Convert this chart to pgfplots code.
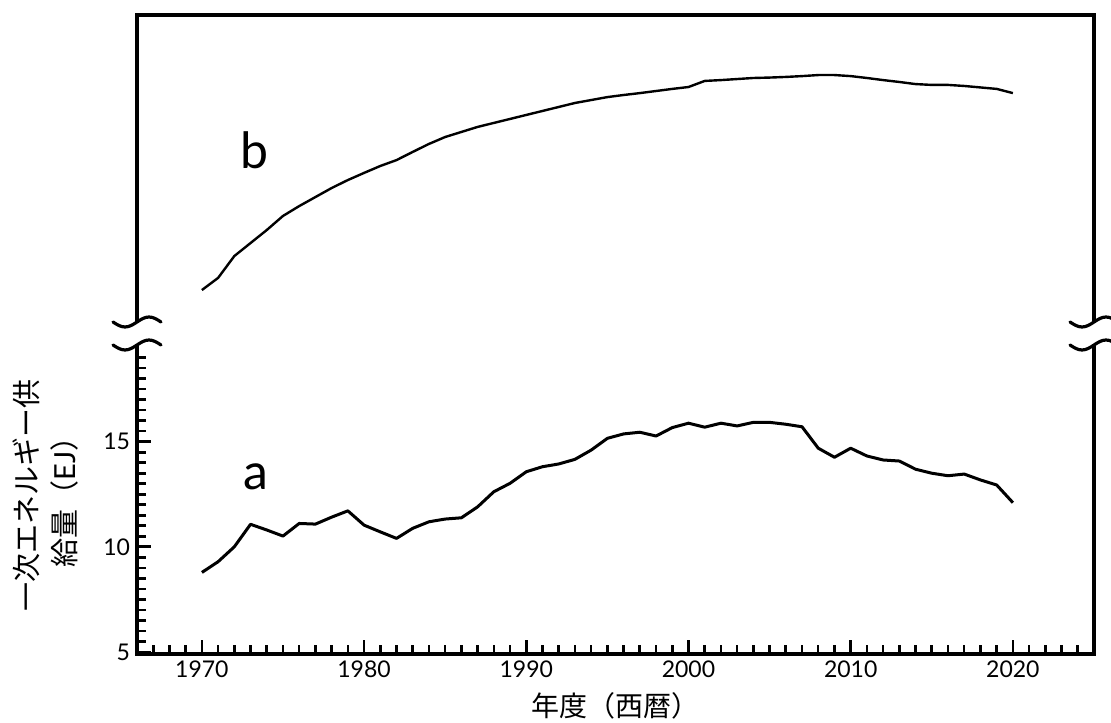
\documentclass[border=0pt]{standalone}
\usepackage{fontspec}
\setmainfont{Lato}
\newfontfamily\jp{Noto Sans CJK JP}
\usepackage{pgfplots}
\usepackage{pgfplotstable}
\pgfplotsset{compat=1.18}

\pgfplotstableread{
year a
1970 8.78
1971 9.29
1972 10.00
1973 11.07
1974 10.80
1975 10.51
1976 11.11
1977 11.08
1978 11.41
1979 11.71
1980 11.03
1981 10.71
1982 10.40
1983 10.88
1984 11.19
1985 11.32
1986 11.38
1987 11.90
1988 12.62
1989 13.02
1990 13.57
1991 13.81
1992 13.94
1993 14.16
1994 14.60
1995 15.16
1996 15.37
1997 15.45
1998 15.27
1999 15.67
2000 15.88
2001 15.69
2002 15.88
2003 15.75
2004 15.92
2005 15.92
2006 15.83
2007 15.71
2008 14.69
2009 14.26
2010 14.69
2011 14.32
2012 14.13
2013 14.08
2014 13.69
2015 13.50
2016 13.38
2017 13.46
2018 13.18
2019 12.94
2020 12.10
}\dataA

\pgfplotstableread{
year b
1970 1.52
1971 2.10
1972 3.14
1973 3.76
1974 4.38
1975 5.05
1976 5.52
1977 5.95
1978 6.38
1979 6.76
1980 7.10
1981 7.43
1982 7.71
1983 8.10
1984 8.48
1985 8.81
1986 9.05
1987 9.29
1988 9.48
1989 9.67
1990 9.86
1991 10.05
1992 10.24
1993 10.43
1994 10.57
1995 10.71
1996 10.81
1997 10.90
1998 11.00
1999 11.10
2000 11.19
2001 11.48
2002 11.52
2003 11.57
2004 11.62
2005 11.64
2006 11.67
2007 11.71
2008 11.76
2009 11.76
2010 11.71
2011 11.62
2012 11.52
2013 11.43
2014 11.33
2015 11.29
2016 11.29
2017 11.24
2018 11.17
2019 11.10
2020 10.90
}\dataB

\begin{document}
\begin{tikzpicture}
\path[use as bounding box] (0,0) rectangle (555.5pt,361pt);

% lower axis (curve a)
\begin{axis}[
  at={(68.5pt,34pt)}, anchor=south west,
  scale only axis, width=478.5pt, height=154.5pt,
  xmin=1966, xmax=2025, ymin=4.9, ymax=19.6,
  clip=false,
  axis line style={draw=none},
  xtick={1970,1980,...,2020}, minor xtick={1967,...,2024},
  ytick={5,10,15}, minor ytick={5.5,6,...,19},
  xtick pos=bottom, ytick pos=left, tick align=inside,
  major tick length=7pt, minor tick length=4.3pt,
  tick style={black, line width=1.3pt},
  /pgf/number format/1000 sep={},
  /pgf/number format/assume math mode=true,
  ticklabel style={font=\fontsize{11.5}{13}\selectfont},
]
\addplot[black, line width=1.5pt, line join=round] table[x=year,y=a] {\dataA};
\draw[line width=2pt, line join=miter] (rel axis cs:0,1) -- (rel axis cs:0,0) -- (rel axis cs:1,0) -- (rel axis cs:1,1);
\node[font=\fontsize{25}{30}\selectfont] at (axis cs:1973.33,13.32) {a};
\end{axis}

% upper axis (curve b)
\begin{axis}[
  at={(68.5pt,200pt)}, anchor=south west,
  scale only axis, width=478.5pt, height=153.5pt,
  xmin=1966, xmax=2025, ymin=0, ymax=14.62,
  clip=false,
  axis line style={draw=none},
  xtick=\empty, ytick=\empty,
]
\addplot[black, line width=1.2pt, line join=round] table[x=year,y=b] {\dataB};
\draw[line width=2pt, line join=miter] (rel axis cs:0,0) -- (rel axis cs:0,1) -- (rel axis cs:1,1) -- (rel axis cs:1,0);
\node[font=\fontsize{25}{30}\selectfont] at (axis cs:1973.27,8.19) {b};
\end{axis}

% axis break marks
\begin{scope}[line width=1.6pt, line cap=round]
\draw (56.5pt,200pt) sin (62.5pt,197.5pt) cos (68.5pt,200pt) sin (74.5pt,202.5pt) cos (80.5pt,200pt);
\draw (56.5pt,188.5pt) sin (62.5pt,186pt) cos (68.5pt,188.5pt) sin (74.5pt,191pt) cos (80.5pt,188.5pt);
\draw (535pt,200pt) sin (541pt,197.5pt) cos (547pt,200pt) sin (553pt,202.5pt) cos (559pt,200pt);
\draw (535pt,188.5pt) sin (541pt,186pt) cos (547pt,188.5pt) sin (553pt,191pt) cos (559pt,188.5pt);
\end{scope}

% axis labels
\node[rotate=90, align=center, font=\jp\fontsize{14.5}{19}\selectfont] at (23pt,113.5pt) {一次エネルギー供\\給量（{\rmfamily EJ}）};
\node[font=\jp\fontsize{14}{16}\selectfont] at (307.75pt,8pt) {年度（西暦）};
\end{tikzpicture}
\end{document}
